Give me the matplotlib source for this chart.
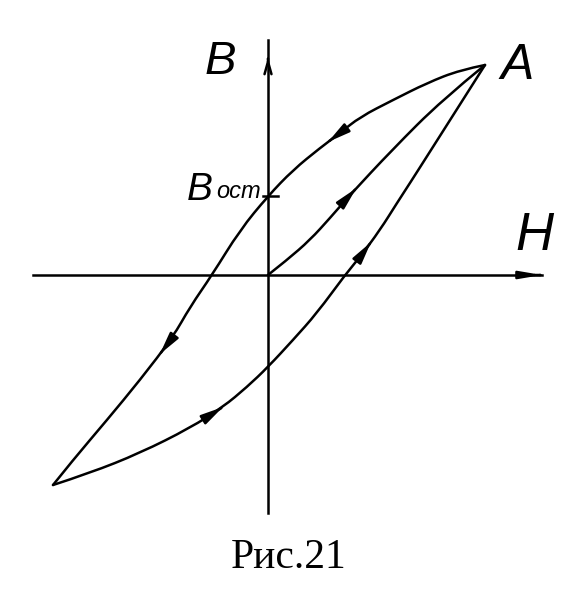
import numpy as np
from matplotlib import pyplot as plt
from matplotlib.path import Path
from matplotlib.patches import PathPatch

# descending branch, from A down to the lower tip
h_down = [2.17, 1.92, 1.59, 1.25, 0.92, 0.72, 0.52, 0.25, 0.00, -0.28, -0.56,
          -0.78, -0.95, -1.28, -1.61, -1.95, -2.15]
b_down = [2.10, 2.05, 1.92, 1.75, 1.58, 1.42, 1.27, 1.05, 0.79, 0.45, 0.00,
          -0.32, -0.62, -1.05, -1.45, -1.85, -2.10]

# ascending branch, from the lower tip back up to A
h_up = [-2.15, -1.78, -1.28, -0.78, -0.45, -0.21, 0.00, 0.25, 0.49, 0.77, 0.92,
        1.12, 1.29, 1.42, 1.63, 1.84, 2.17]
b_up = [-2.10, -1.98, -1.78, -1.53, -1.32, -1.12, -0.92, -0.65, -0.38, 0.00, 0.18,
        0.45, 0.72, 0.92, 1.25, 1.58, 2.10]

# initial magnetisation curve, from the origin to A
h_init = [0.00, 0.19, 0.42, 0.62, 0.82, 1.24, 1.74, 2.17]
b_init = [0.00, 0.15, 0.35, 0.57, 0.80, 1.25, 1.75, 2.10]

h_axis = [-2.35, 2.74]
b_axis = [-2.38, 2.35]

b_rem = b_down[8]  # B_ост, where the descending branch meets the B axis

LW = 1.8
HEAD = '-|>,head_length=1.3,head_width=0.3'


def smooth_curve(ax, h, b):
    # quadratic spline through the read points (library bezier segments)
    pts = np.column_stack([h, b])
    verts = [pts[0]]
    codes = [Path.MOVETO]
    for k in range(1, len(pts) - 2):
        verts += [pts[k], (pts[k] + pts[k + 1]) / 2]
        codes += [Path.CURVE3, Path.CURVE3]
    verts += [pts[-2], pts[-1]]
    codes += [Path.CURVE3, Path.CURVE3]
    ax.add_patch(PathPatch(Path(verts, codes), facecolor='none',
                           edgecolor='k', lw=LW, capstyle='round'))


def arrow_on(ax, h, b, i, frac, head=HEAD):
    p0 = np.array([h[i], b[i]])
    p1 = np.array([h[i + 1], b[i + 1]])
    d = p1 - p0
    tip = p0 + frac * d
    tail = tip - 0.02 * d / np.linalg.norm(d)
    ax.annotate('', xy=tip, xytext=tail,
                arrowprops=dict(arrowstyle=head, color='k', lw=LW,
                                shrinkA=0, shrinkB=0))


def draw():
    fig = plt.figure(figsize=(5.78, 5.98), dpi=100)
    ax = fig.add_axes([0, 0, 1, 1])
    ax.set_xlim(-2.68, 3.10)
    ax.set_ylim(-3.23, 2.75)
    ax.axis('off')

    # axes of the diagram
    ax.plot(h_axis, [0, 0], color='k', lw=LW)
    ax.plot([0, 0], b_axis, color='k', lw=LW)
    ax.annotate('', xy=(h_axis[1], 0), xytext=(h_axis[1] - 0.02, 0),
                arrowprops=dict(arrowstyle='-|>,head_length=1.3,head_width=0.22',
                                color='k', lw=LW, shrinkA=0, shrinkB=0))
    ax.annotate('', xy=(0, b_axis[1] - 0.17), xytext=(0, b_axis[1] - 0.19),
                arrowprops=dict(arrowstyle='->,head_length=0.9,head_width=0.25',
                                color='k', lw=LW, shrinkA=0, shrinkB=0))
    ax.plot([-0.05, 0.10], [b_rem, b_rem], color='k', lw=LW)

    # loop and initial curve
    smooth_curve(ax, h_down, b_down)
    smooth_curve(ax, h_up, b_up)
    smooth_curve(ax, h_init, b_init)

    arrow_on(ax, h_down, b_down, 5, 0.6)
    arrow_on(ax, h_down, b_down, 12, 0.4)
    arrow_on(ax, h_up, b_up, 3, 1.0)
    arrow_on(ax, h_up, b_up, 10, 0.55)
    arrow_on(ax, h_init, b_init, 4, 0.15)

    hand = dict(family=['Liberation Sans', 'DejaVu Sans'],
                style='italic', color='k')
    ax.text(-0.48, 2.13, 'B', fontsize=34, ha='center', va='center', **hand)
    ax.text(2.49, 2.09, 'A', fontsize=36, ha='center', va='center', **hand)
    ax.text(2.66, 0.39, 'H', fontsize=38, ha='center', va='center', **hand)
    ax.text(-0.81, 0.75, 'B', fontsize=28, ha='left', va='baseline', **hand)
    ax.text(-0.52, 0.77, 'ост', fontsize=17, ha='left', va='baseline', **hand)

    ax.text(0.21, -2.93, 'Рис.21', fontsize=30, family='Liberation Serif',
            ha='center', va='baseline')

    fig.savefig('out.png', dpi=100, facecolor='white')
    plt.close(fig)


draw()
